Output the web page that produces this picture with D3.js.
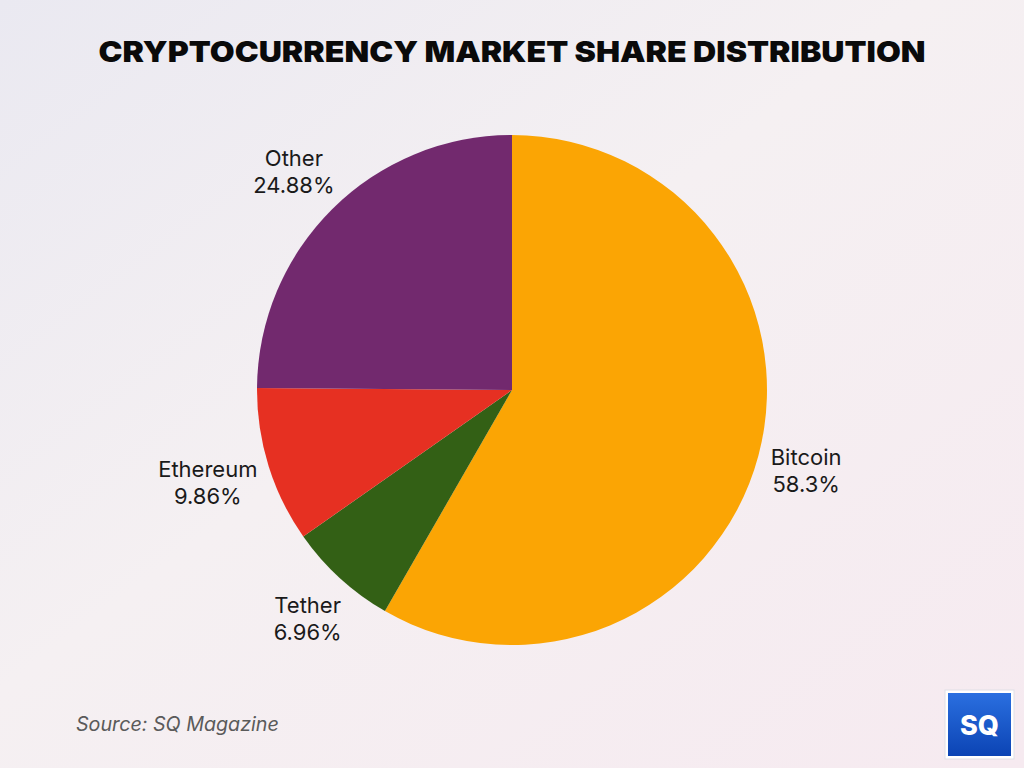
<!DOCTYPE html>
<html>
<head>
<meta charset="utf-8">
<script src="https://cdn.jsdelivr.net/npm/d3@7"></script>
<style>
  html, body { margin: 0; padding: 0; }
  svg { display: block; }
</style>
</head>
<body>
<script>
// chart data
var coins = ["Bitcoin", "Tether", "Ethereum", "Other"];
var shares = [58.3, 6.96, 9.86, 24.88];
var shareLabels = ["58.3%", "6.96%", "9.86%", "24.88%"];
var colors = ["#fba504", "#336015", "#e63022", "#72296e"];

var W = 1024, H = 768;
var cx = 512, cy = 390, R = 255;

var svg = d3.select("body").append("svg").attr("width", W).attr("height", H);
var defs = svg.append("defs");

var bg = defs.append("linearGradient").attr("id", "bg")
    .attr("x1", "0").attr("y1", "0").attr("x2", "1").attr("y2", "1");
bg.append("stop").attr("offset", "0").attr("stop-color", "#eae9f1");
bg.append("stop").attr("offset", "0.45").attr("stop-color", "#f5f0f2");
bg.append("stop").attr("offset", "1").attr("stop-color", "#f6eaf0");
svg.append("rect").attr("width", W).attr("height", H).attr("fill", "url(#bg)");

svg.append("text").attr("x", W / 2).attr("y", 62)
    .attr("text-anchor", "middle")
    .style("font-family", "Inter, 'DejaVu Sans', sans-serif")
    .style("font-weight", 900).style("font-size", "29px")
    .attr("textLength", 827).attr("lengthAdjust", "spacingAndGlyphs")
    .attr("fill", "#0a0a0a")
    .text("CRYPTOCURRENCY MARKET SHARE DISTRIBUTION");

var data = coins.map(function(c, i) { return { name: c, value: shares[i], label: shareLabels[i], color: colors[i] }; });
var pie = d3.pie().sort(null).value(function(d) { return d.value; });
var arc = d3.arc().innerRadius(0).outerRadius(R);
var arcs = pie(data);

var g = svg.append("g").attr("transform", "translate(" + cx + "," + cy + ")");
g.selectAll("path").data(arcs).enter().append("path")
    .attr("d", arc)
    .attr("fill", function(d) { return d.data.color; });

// labels outside the slices
var lblR = 269;
arcs.forEach(function(a) {
    var m = (a.startAngle + a.endAngle) / 2;
    var s = Math.sin(m), c = -Math.cos(m);
    var t = g.append("text")
        .attr("text-anchor", "middle")
        .style("font-family", "Inter, 'DejaVu Sans', sans-serif")
        .style("font-size", "22px").attr("fill", "#1a1a1a");
    t.append("tspan").attr("x", 0).attr("dy", 0).text(a.data.name);
    t.append("tspan").attr("x", 0).attr("dy", 27).text(a.data.label);
    var w = t.node().getBBox().width;
    var px = s * (lblR + w / 2);
    var py = c * (lblR + 40) - 5;
    t.attr("transform", "translate(" + px + "," + py + ")");
});

svg.append("text").attr("x", 76).attr("y", 731)
    .style("font-family", "Inter, 'DejaVu Sans', sans-serif")
    .style("font-style", "italic").style("font-size", "19.7px")
    .attr("fill", "#5a5a5a")
    .text("Source: SQ Magazine");

// logo
var lg = defs.append("linearGradient").attr("id", "logo")
    .attr("x1", "0").attr("y1", "0").attr("x2", "0").attr("y2", "1");
lg.append("stop").attr("offset", "0").attr("stop-color", "#2a6fe0");
lg.append("stop").attr("offset", "1").attr("stop-color", "#0c44b4");
svg.append("rect").attr("x", 945).attr("y", 690).attr("width", 69).attr("height", 69)
    .attr("fill", "#ffffff").attr("stroke", "#e0e0e6");
svg.append("rect").attr("x", 948).attr("y", 693).attr("width", 63).attr("height", 63)
    .attr("fill", "url(#logo)");
svg.append("text").attr("x", 979.5).attr("y", 735)
    .attr("text-anchor", "middle")
    .style("font-family", "Inter, 'DejaVu Sans', sans-serif")
    .style("font-weight", 800).style("font-size", "27px")
    .attr("fill", "#ffffff")
    .text("SQ");
</script>
</body>
</html>
